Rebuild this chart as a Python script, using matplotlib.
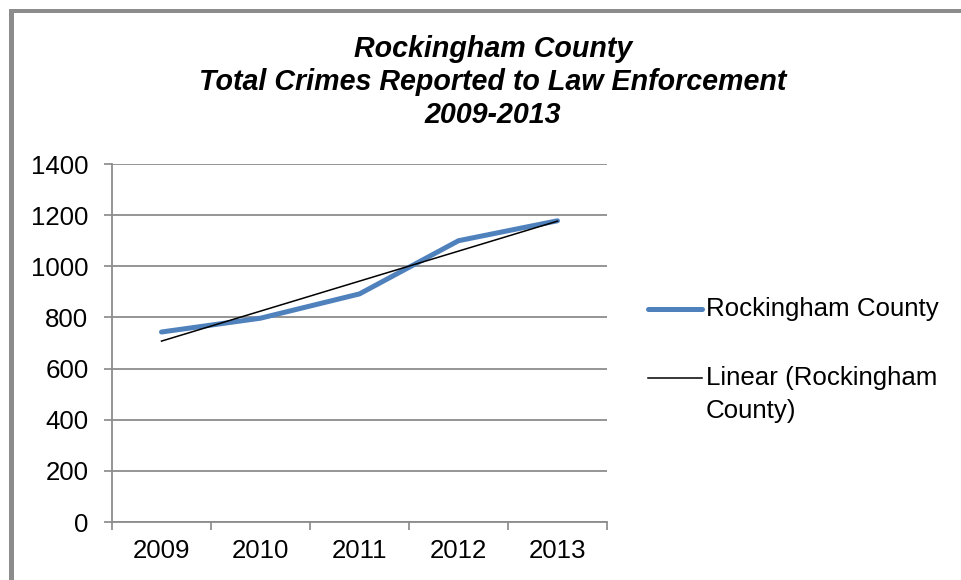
import numpy as np
import matplotlib
from matplotlib import pyplot as plt
from matplotlib.lines import Line2D
from matplotlib.patches import Rectangle

matplotlib.use("Agg")

years = ["2009", "2010", "2011", "2012", "2013"]
crimes = [743, 797, 892, 1100, 1178]
series_name = "Rockingham County"
trend_name = "Linear (Rockingham\nCounty)"
title_lines = [
    "Rockingham County",
    "Total Crimes Reported to Law Enforcement",
    "2009-2013",
]

plt.rcParams["font.family"] = ["Liberation Sans", "DejaVu Sans"]

W, H = 962, 580
LABEL_SIZE = 18.6
fig = plt.figure(figsize=(W / 100, H / 100), dpi=100)
fig.patch.set_facecolor("white")

# gray frame on top and left edges
frame_col = "#8c8c8c"
fig.add_artist(Rectangle((9 / W, 0), 5 / W, 1 - 9 / H, transform=fig.transFigure,
                         facecolor=frame_col, edgecolor="none"))
fig.add_artist(Rectangle((9 / W, 1 - 13 / H), 1, 4 / H, transform=fig.transFigure,
                         facecolor=frame_col, edgecolor="none"))

ax = fig.add_axes([112 / W, 1 - 522 / H, (607 - 112) / W, (522 - 164) / H])

x = np.arange(len(years))
ax.plot(x, crimes, color="#4F81BD", lw=3.6, solid_capstyle="round",
        solid_joinstyle="round", zorder=3)

# least squares trend
k, b = np.polyfit(x, crimes, 1)
ax.plot(x, k * x + b, color="black", lw=1.1, zorder=4)

ax.set_xlim(-0.5, len(years) - 0.5)
ax.set_ylim(0, 1400)
ax.set_yticks(range(0, 1401, 200))
ax.set_yticklabels([str(v) for v in range(0, 1401, 200)])
ax.set_xticks(x)
ax.set_xticklabels(years)
ax.set_xticks(np.arange(-0.5, len(years)), minor=True)
ax.tick_params(axis="x", which="major", length=0, pad=12,
               labelsize=LABEL_SIZE)
ax.tick_params(axis="x", which="minor", length=6, color="#888888", width=1.2)
ax.tick_params(axis="y", length=6, color="#888888", width=1.2, pad=11,
               labelsize=LABEL_SIZE)

ax.grid(axis="y", color="#8c8c8c", lw=1.3)
ax.set_axisbelow(True)
for side in ("top", "right"):
    ax.spines[side].set_visible(False)
for side in ("left", "bottom"):
    ax.spines[side].set_color("#8c8c8c")
    ax.spines[side].set_linewidth(1.3)

# title, three lines on fixed baselines
for i, line in enumerate(title_lines):
    fig.text(493 / W, 1 - (57 + 33 * i) / H, line, ha="center",
             va="baseline", fontsize=20.6, fontweight="bold",
             fontstyle="italic")

# legend
fig.add_artist(Line2D([648 / W, 702 / W], [1 - 309 / H] * 2, color="#4F81BD",
                      lw=3.6, solid_capstyle="round", transform=fig.transFigure))
fig.text(706 / W, 1 - 309 / H, series_name, ha="left", va="center",
         fontsize=LABEL_SIZE)
fig.add_artist(Line2D([648 / W, 702 / W], [1 - 378 / H] * 2, color="black",
                      lw=1.1, transform=fig.transFigure))
fig.text(706 / W, 1 - 378 / H, trend_name.split("\n")[0], ha="left",
         va="center", fontsize=LABEL_SIZE)
fig.text(706 / W, 1 - 411 / H, trend_name.split("\n")[1], ha="left",
         va="center", fontsize=LABEL_SIZE)

fig.savefig("out.png", dpi=100)
